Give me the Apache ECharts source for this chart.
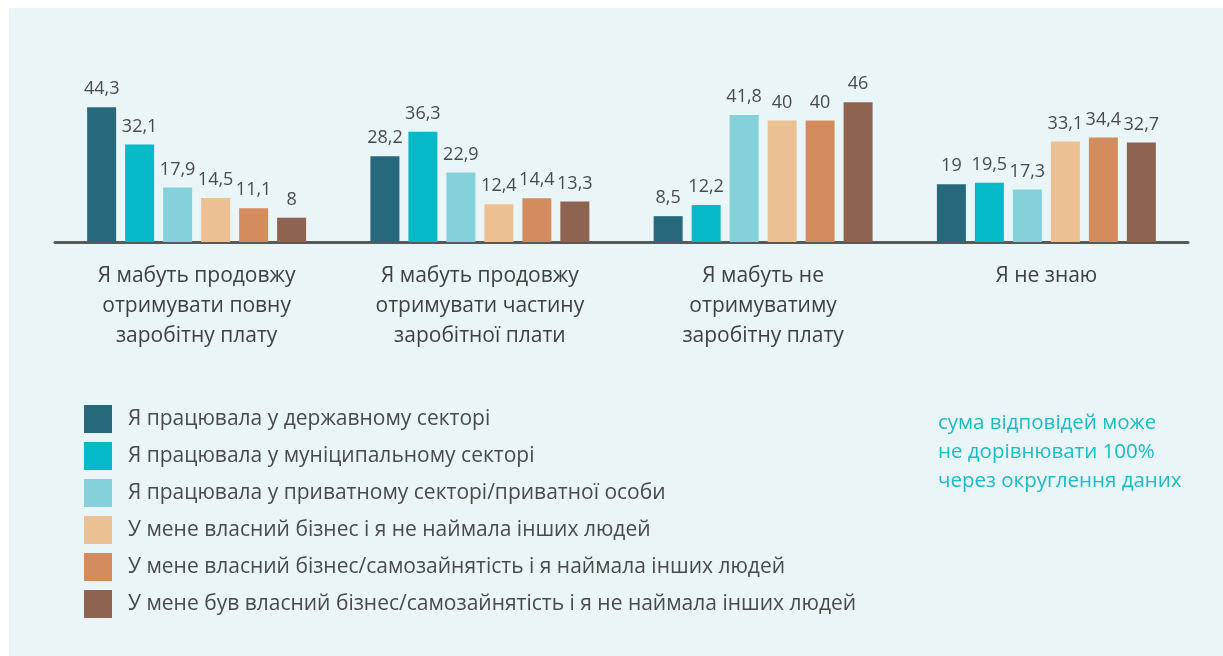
<!DOCTYPE html>
<html>
<head>
<meta charset="utf-8">
<script src="https://cdn.jsdelivr.net/npm/echarts@6/dist/echarts.min.js"></script>
<style>
    html, body { margin: 0; padding: 0; background: #ffffff; }
    #chart { position: absolute; left: 9px; top: 8px; width: 1214px; height: 648px; background: #eaf5f8; }
</style>
</head>
<body>
<div id="chart"></div>
<script>
// категорії та дані
var categories = [
    'Я мабуть продовжу\nотримувати повну\nзаробітну плату',
    'Я мабуть продовжу\nотримувати частину\nзаробітної плати',
    'Я мабуть не\nотримуватиму\nзаробітну плату',
    'Я не знаю'
];
var seriesNames = [
    'Я працювала у державному секторі',
    'Я працювала у муніципальному секторі',
    'Я працювала у приватному секторі/приватної особи',
    'У мене власний бізнес і я не наймала інших людей',
    'У мене власний бізнес/самозайнятість і я наймала інших людей',
    'У мене був власний бізнес/самозайнятість і я не наймала інших людей'
];
var stateSector = [44.3, 28.2, 8.5, 19];
var municipalSector = [32.1, 36.3, 12.2, 19.5];
var privateSector = [17.9, 22.9, 41.8, 17.3];
var ownNoHire = [14.5, 12.4, 40, 33.1];
var ownHire = [11.1, 14.4, 40, 34.4];
var hadOwnNoHire = [8, 13.3, 46, 32.7];
var colors = ['#27687a', '#05bac6', '#84d1d9', '#ebc093', '#d48c5f', '#8e6450'];
var note = 'сума відповідей може\nне дорівнювати 100%\nчерез округлення даних';

var allValues = [stateSector, municipalSector, privateSector, ownNoHire, ownHire, hadOwnNoHire];
var font = '"Open Sans", "Noto Sans", sans-serif';

var chart = echarts.init(document.getElementById('chart'));

var series = allValues.map(function (vals, i) {
    return {
        name: seriesNames[i],
        type: 'bar',
        data: vals,
        barWidth: 29,
        barGap: '31%',
        itemStyle: { color: colors[i] },
        label: {
            show: true,
            position: 'top',
            distance: 9,
            color: '#4a4a4a',
            fontSize: 18,
            fontFamily: font,
            formatter: function (p) { return String(p.value).replace('.', ','); }
        }
    };
});

var option = {
    animation: false,
    color: colors,
    grid: { left: 46, width: 1133, top: 82, height: 152 },
    legend: {
        orient: 'vertical',
        left: 70,
        top: 392,
        itemWidth: 28,
        itemHeight: 28,
        itemGap: 9,
        icon: 'rect',
        selectedMode: false,
        textStyle: { color: '#4a4a4a', fontSize: 21, fontFamily: font, padding: [0, 0, 0, 11] },
        data: seriesNames
    },
    xAxis: {
        type: 'category',
        data: categories,
        axisLine: { show: true, lineStyle: { color: '#595959', width: 3 } },
        axisTick: { show: false },
        axisLabel: { color: '#404040', fontSize: 21, fontFamily: font, lineHeight: 30, margin: 19 }
    },
    yAxis: {
        type: 'value',
        min: 0,
        max: 50,
        show: false
    },
    graphic: [{
        type: 'text',
        left: 929,
        top: 401,
        style: {
            text: note,
            fill: '#1abcc8',
            fontSize: 20.5,
            fontFamily: font,
            lineHeight: 29
        }
    }],
    series: series
};

chart.setOption(option);
</script>
</body>
</html>
